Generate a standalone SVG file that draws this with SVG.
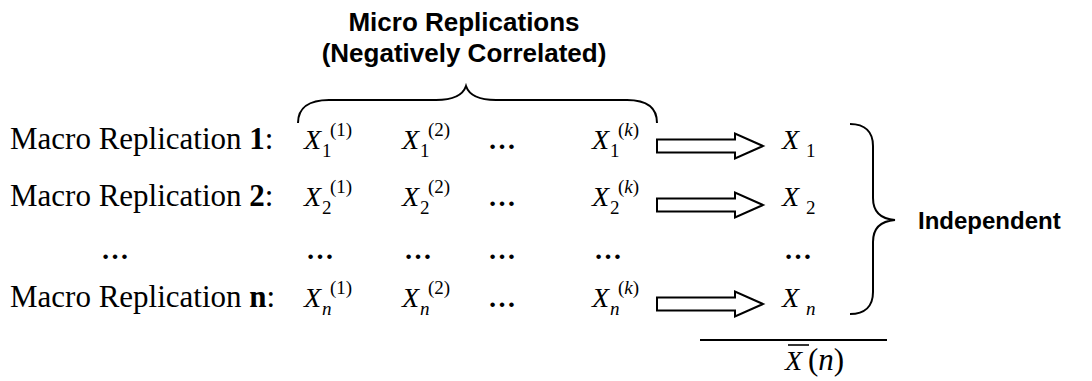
<svg xmlns="http://www.w3.org/2000/svg" width="1092" height="381" viewBox="0 0 1092 381">
  <style>
    .hdr { font-family: "Liberation Sans", Arial, sans-serif; font-weight: bold; font-size: 26px; fill: #000; }
    .ind { font-family: "Liberation Sans", Arial, sans-serif; font-weight: bold; font-size: 24px; fill: #000; }
    .lbl { font-family: "Liberation Serif", "Times New Roman", serif; font-size: 31px; fill: #000; }
    .mx { font-family: "Liberation Serif", "Times New Roman", serif; font-style: italic; font-size: 28px; fill: #000; }
    .sm { font-family: "Liberation Serif", "Times New Roman", serif; font-size: 19px; fill: #000; }
    .smi { font-family: "Liberation Serif", "Times New Roman", serif; font-style: italic; font-size: 19px; fill: #000; }
    .dots { font-family: "Liberation Serif", "Times New Roman", serif; font-weight: bold; font-size: 28px; fill: #000; text-anchor: middle; }
    .brace { fill: none; stroke: #000; stroke-width: 2; }
    .arrow { fill: #fff; stroke: #000; stroke-width: 2; stroke-linejoin: miter; }
    .rule { stroke: #000; stroke-width: 2; }
  </style>
  <defs>
    <!-- hollow block arrow, origin at the middle of the tail end -->
    <path id="blockArrow" d="M0,-6.5 H78 V-12.5 L106,0 L78,12.5 V6.5 H0 Z"/>
  </defs>

  <!-- header over the micro replications -->
  <g id="micro-header">
    <text class="hdr" x="464" y="31" text-anchor="middle">Micro Replications</text>
    <text class="hdr" x="464" y="62" text-anchor="middle">(Negatively Correlated)</text>
    <path class="brace" d="M298,123 C298,108 309,100 329,100 H436 C454,100 463,95 466,86 C469,95 478,100 496,100 H627 C647,100 657,108 657,123"/>
  </g>

  <!-- row labels -->
  <g id="row-labels">
    <text class="lbl" x="10" y="149">Macro Replication <tspan font-weight="bold">1</tspan>:</text>
    <text class="lbl" x="10" y="206">Macro Replication <tspan font-weight="bold">2</tspan>:</text>
    <text class="dots" x="115" y="259">…</text>
    <text class="lbl" x="10" y="307">Macro Replication <tspan font-weight="bold">n</tspan>:</text>
  </g>

  <!-- micro replication entries: X, superscript (j), subscript row index -->
  <g id="row-1">
    <text class="mx" x="304" y="149">X</text><text class="sm" x="330" y="136">(1)</text><text class="sm" x="322" y="157">1</text>
    <text class="mx" x="402" y="149">X</text><text class="sm" x="428" y="136">(2)</text><text class="sm" x="420" y="157">1</text>
    <text class="dots" x="502" y="149">…</text>
    <text class="mx" x="592" y="149">X</text><text class="sm" x="618" y="136">(<tspan class="smi">k</tspan>)</text><text class="sm" x="610" y="157">1</text>
  </g>
  <g id="row-2">
    <text class="mx" x="304" y="206">X</text><text class="sm" x="330" y="193">(1)</text><text class="sm" x="322" y="214">2</text>
    <text class="mx" x="402" y="206">X</text><text class="sm" x="428" y="193">(2)</text><text class="sm" x="420" y="214">2</text>
    <text class="dots" x="502" y="206">…</text>
    <text class="mx" x="592" y="206">X</text><text class="sm" x="618" y="193">(<tspan class="smi">k</tspan>)</text><text class="sm" x="610" y="214">2</text>
  </g>
  <g id="row-dots">
    <text class="dots" x="320" y="259">…</text>
    <text class="dots" x="418" y="259">…</text>
    <text class="dots" x="502" y="259">…</text>
    <text class="dots" x="608" y="259">…</text>
    <text class="dots" x="798" y="259">…</text>
  </g>
  <g id="row-n">
    <text class="mx" x="304" y="307">X</text><text class="sm" x="330" y="294">(1)</text><text class="smi" x="322" y="315">n</text>
    <text class="mx" x="402" y="307">X</text><text class="sm" x="428" y="294">(2)</text><text class="smi" x="420" y="315">n</text>
    <text class="dots" x="502" y="307">…</text>
    <text class="mx" x="592" y="307">X</text><text class="sm" x="618" y="294">(<tspan class="smi">k</tspan>)</text><text class="smi" x="610" y="315">n</text>
  </g>

  <!-- macro replication results -->
  <g id="result-1"><text class="mx" x="782" y="149">X</text><text class="sm" x="806" y="157">1</text></g>
  <g id="result-2"><text class="mx" x="782" y="206">X</text><text class="sm" x="806" y="214">2</text></g>
  <g id="result-n"><text class="mx" x="782" y="307">X</text><text class="smi" x="806" y="315">n</text></g>

  <!-- block arrows from each row to its result -->
  <g id="connectors">
    <use href="#blockArrow" class="arrow" x="657" y="146"/>
    <use href="#blockArrow" class="arrow" x="657" y="205"/>
    <use href="#blockArrow" class="arrow" x="657" y="304"/>
  </g>

  <!-- brace grouping the independent results -->
  <g id="independent">
    <path class="brace" d="M850,124 C865,124 873,132 873,146 V198 C873,212 881,219 895,220 C881,221 873,228 873,242 V292 C873,306 865,314 850,314"/>
    <text class="ind" x="918" y="229">Independent</text>
  </g>

  <!-- overall mean -->
  <g id="mean">
    <line class="rule" x1="700" y1="340" x2="887" y2="340"/>
    <text class="mx" x="785" y="370" font-size="30">X</text>
    <line x1="788" y1="345" x2="809" y2="345" stroke="#000" stroke-width="1.6"/>
    <text class="lbl" x="808" y="370" font-size="30">(<tspan font-style="italic">n</tspan>)</text>
  </g>
</svg>
